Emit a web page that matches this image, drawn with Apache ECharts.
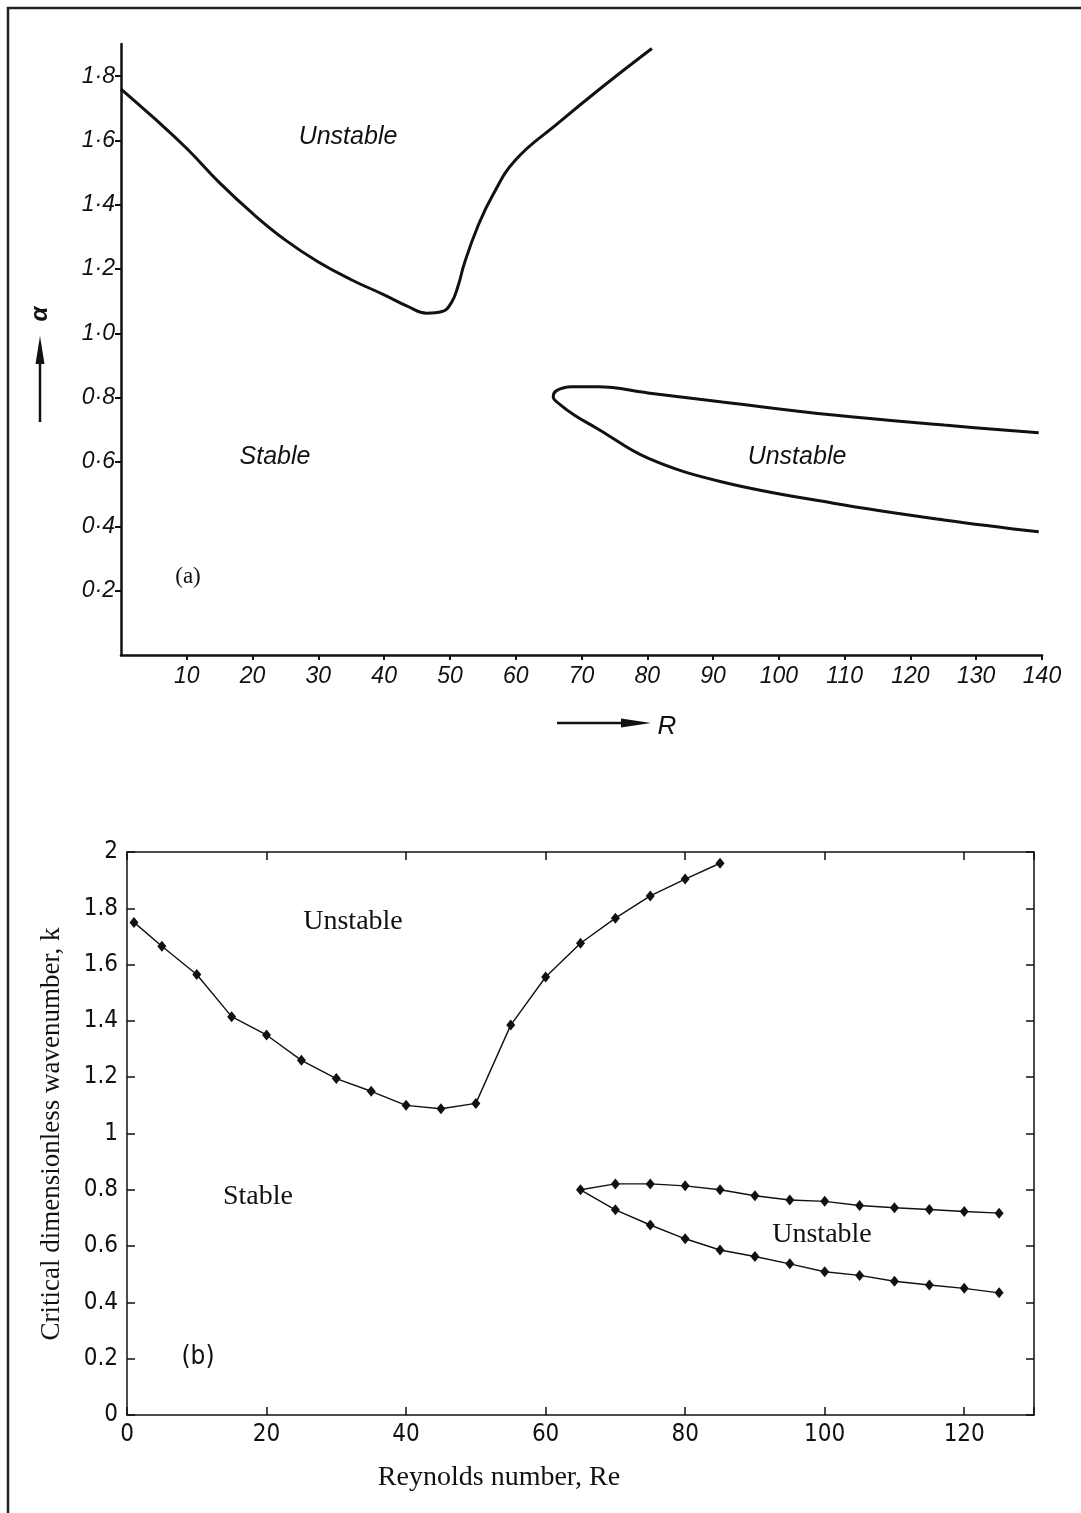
<!DOCTYPE html>
<html>
<head>
<meta charset="utf-8">
<script src="https://cdn.jsdelivr.net/npm/echarts@6/dist/echarts.min.js"></script>
<style>
  html, body { margin: 0; padding: 0; background: #fff; }
  #chart { width: 1081px; height: 1513px; }
</style>
</head>
<body>
<div id="chart"></div>
<script>
// (a) neutral-stability curves, alpha versus R
const upperCurveA = [
  [0, 1.76], [5, 1.67], [10, 1.575], [15, 1.468], [20, 1.373], [25, 1.29], [30, 1.222],
  [35, 1.167], [40, 1.12], [43.5, 1.085], [46.5, 1.063], [48.8, 1.068], [50.2, 1.095],
  [51.2, 1.145], [52.2, 1.218], [54.2, 1.331], [56.5, 1.43], [60, 1.54], [66.4, 1.653],
  [73.2, 1.767], [80.7, 1.886]
];
const loopCurveA = [
  [139.5, 0.691], [125.1, 0.715], [108.3, 0.746], [91.4, 0.787], [80.1, 0.815],
  [72.5, 0.834], [68.5, 0.834], [66.2, 0.822], [65.7, 0.803], [66.8, 0.778], [69.0, 0.745],
  [72.5, 0.703], [80.1, 0.612], [91.4, 0.538], [108.3, 0.472], [125.1, 0.420], [139.5, 0.383]
];

// (b) computed critical wavenumber k versus Re
const reUpper = [1, 5, 10, 15, 20, 25, 30, 35, 40, 45, 50, 55, 60, 65, 70, 75, 80, 85];
const kUpper  = [1.75, 1.665, 1.565, 1.415, 1.35, 1.26, 1.195, 1.15, 1.10, 1.088, 1.107,
                 1.385, 1.556, 1.676, 1.765, 1.844, 1.904, 1.96];
const reLoopTop = [125, 120, 115, 110, 105, 100, 95, 90, 85, 80, 75, 70, 65];
const kLoopTop  = [0.717, 0.723, 0.730, 0.736, 0.744, 0.759, 0.764, 0.779, 0.80, 0.814, 0.821, 0.821, 0.80];
const reLoopBottom = [70, 75, 80, 85, 90, 95, 100, 105, 110, 115, 120, 125];
const kLoopBottom  = [0.729, 0.675, 0.626, 0.586, 0.563, 0.537, 0.509, 0.496, 0.475, 0.462, 0.450, 0.434];

// tick labels
const xTicksA = [10, 20, 30, 40, 50, 60, 70, 80, 90, 100, 110, 120, 130, 140];
const yTickValuesA = [0.2, 0.4, 0.6, 0.8, 1.0, 1.2, 1.4, 1.6, 1.8];
const yTicksA = ['0·2', '0·4', '0·6', '0·8', '1·0', '1·2', '1·4', '1·6', '1·8'];
const xTicksB = [0, 20, 40, 60, 80, 100, 120];

const loopB = reLoopTop.map((r, i) => [r, kLoopTop[i]])
  .concat(reLoopBottom.map((r, i) => [r, kLoopBottom[i]]));
const upperB = reUpper.map((r, i) => [r, kUpper[i]]);

const INK = '#111';
const sansIt = { fontFamily: 'Liberation Sans', fontStyle: 'italic', color: INK };
const serif = 'Liberation Serif';
const narrow = "'Liberation Sans Narrow', 'DejaVu Sans Condensed', 'Liberation Sans', sans-serif";

const chart = echarts.init(document.getElementById('chart'), null, { renderer: 'canvas' });

function arrowHead(tipX, tipY, dir) {
  if (dir === 'up') {
    return [[tipX, tipY], [tipX - 4.5, tipY + 28], [tipX + 4.5, tipY + 28]];
  }
  return [[tipX, tipY], [tipX - 30, tipY - 4.5], [tipX - 30, tipY + 4.5]];
}

function labelA(v) {
  for (let i = 0; i < yTickValuesA.length; i++) {
    if (Math.abs(v - yTickValuesA[i]) < 1e-6) return yTicksA[i];
  }
  return '';
}

const frameAxis = {
  axisLine: { show: true, onZero: false, lineStyle: { color: INK, width: 1.5 } },
  axisTick: { show: true, inside: true, length: 8, lineStyle: { color: INK, width: 1.5 } },
  splitLine: { show: false }
};

const option = {
  backgroundColor: '#fff',
  animation: false,
  grid: [
    { left: 121, top: 44, width: 921, height: 611 },
    { left: 127, top: 852, width: 907, height: 563 }
  ],
  xAxis: [
    {
      gridIndex: 0, type: 'value', min: 0, max: 140, interval: 10,
      axisLine: { onZero: false, lineStyle: { color: INK, width: 2.5 } },
      axisTick: { show: true, length: 5, lineStyle: { color: INK, width: 2 }, customValues: xTicksA },
      splitLine: { show: false },
      axisLabel: Object.assign({
        fontSize: 23, margin: 10, customValues: xTicksA,
        formatter: v => xTicksA.includes(v) ? String(v) : ''
      }, sansIt)
    },
    Object.assign({
      gridIndex: 1, type: 'value', min: 0, max: 130, interval: 20, position: 'bottom',
      axisLabel: {
        fontSize: 24, margin: 8, color: INK, fontFamily: narrow,
        formatter: v => xTicksB.includes(v) ? String(v) : ''
      }
    }, frameAxis),
    Object.assign({
      gridIndex: 1, type: 'value', min: 0, max: 130, interval: 20, position: 'top',
      axisLabel: { show: false }
    }, frameAxis)
  ],
  yAxis: [
    {
      gridIndex: 0, type: 'value', min: 0, max: 1.9, interval: 0.2,
      axisLine: { show: true, onZero: false, lineStyle: { color: INK, width: 2.5 } },
      axisTick: { show: true, length: 6, lineStyle: { color: INK, width: 2 }, customValues: yTickValuesA },
      splitLine: { show: false },
      axisLabel: Object.assign({
        fontSize: 23, margin: 6, customValues: yTickValuesA,
        formatter: labelA
      }, sansIt)
    },
    Object.assign({
      gridIndex: 1, type: 'value', min: 0, max: 2, interval: 0.2, position: 'left',
      axisLabel: { fontSize: 24, margin: 9, color: INK, fontFamily: narrow }
    }, frameAxis),
    Object.assign({
      gridIndex: 1, type: 'value', min: 0, max: 2, interval: 0.2, position: 'right',
      axisLabel: { show: false }
    }, frameAxis)
  ],
  series: [
    {
      type: 'line', xAxisIndex: 0, yAxisIndex: 0, data: upperCurveA,
      smooth: 0.45, showSymbol: false, lineStyle: { color: INK, width: 3 }
    },
    {
      type: 'line', xAxisIndex: 0, yAxisIndex: 0, data: loopCurveA,
      smooth: 0.4, showSymbol: false, lineStyle: { color: INK, width: 3 }
    },
    {
      type: 'line', xAxisIndex: 1, yAxisIndex: 1, data: upperB,
      symbol: 'diamond', symbolSize: [9, 11], showAllSymbol: true,
      itemStyle: { color: INK }, lineStyle: { color: INK, width: 1.4 }
    },
    {
      type: 'line', xAxisIndex: 1, yAxisIndex: 1, data: loopB,
      symbol: 'diamond', symbolSize: [9, 11], showAllSymbol: true,
      itemStyle: { color: INK }, lineStyle: { color: INK, width: 1.4 }
    }
  ],
  graphic: [
    // outer frame (top and left edges)
    { type: 'polyline', shape: { points: [[8, 1513], [8, 8], [1081, 8]] },
      style: { stroke: '#222', lineWidth: 2.5, fill: null } },

    // (a) annotations
    { type: 'text', x: 348, y: 137, style: { text: 'Unstable', fontSize: 25, align: 'center', verticalAlign: 'middle', fill: INK, fontFamily: 'Liberation Sans', fontStyle: 'italic' } },
    { type: 'text', x: 275, y: 457, style: { text: 'Stable', fontSize: 25, align: 'center', verticalAlign: 'middle', fill: INK, fontFamily: 'Liberation Sans', fontStyle: 'italic' } },
    { type: 'text', x: 797, y: 457, style: { text: 'Unstable', fontSize: 25, align: 'center', verticalAlign: 'middle', fill: INK, fontFamily: 'Liberation Sans', fontStyle: 'italic' } },
    { type: 'text', x: 188, y: 577, style: { text: '(a)', fontSize: 23, align: 'center', verticalAlign: 'middle', fill: INK, fontFamily: serif } },

    // (a) axis names with arrows
    { type: 'line', shape: { x1: 40, y1: 422, x2: 40, y2: 350 }, style: { stroke: INK, lineWidth: 2.5 } },
    { type: 'polygon', shape: { points: arrowHead(40, 336, 'up') }, style: { fill: INK } },
    { type: 'text', x: 40, y: 314, rotation: Math.PI / 2,
      style: { text: 'α', fontSize: 24, align: 'center', verticalAlign: 'middle', fill: INK, fontFamily: 'Liberation Sans', fontStyle: 'italic', fontWeight: 'bold' } },
    { type: 'line', shape: { x1: 557, y1: 723, x2: 630, y2: 723 }, style: { stroke: INK, lineWidth: 2.5 } },
    { type: 'polygon', shape: { points: arrowHead(651, 723, 'right') }, style: { fill: INK } },
    { type: 'text', x: 667, y: 727, style: { text: 'R', fontSize: 26, align: 'center', verticalAlign: 'middle', fill: INK, fontFamily: 'Liberation Sans', fontStyle: 'italic' } },

    // (b) annotations
    { type: 'text', x: 353, y: 922, style: { text: 'Unstable', fontSize: 28, align: 'center', verticalAlign: 'middle', fill: INK, fontFamily: serif } },
    { type: 'text', x: 258, y: 1197, style: { text: 'Stable', fontSize: 28, align: 'center', verticalAlign: 'middle', fill: INK, fontFamily: serif } },
    { type: 'text', x: 822, y: 1235, style: { text: 'Unstable', fontSize: 28, align: 'center', verticalAlign: 'middle', fill: INK, fontFamily: serif } },
    { type: 'text', x: 198, y: 1357, style: { text: '(b)', fontSize: 26, align: 'center', verticalAlign: 'middle', fill: INK, fontFamily: narrow } },

    // (b) axis titles
    { type: 'text', x: 499, y: 1478, style: { text: 'Reynolds number, Re', fontSize: 28, align: 'center', verticalAlign: 'middle', fill: INK, fontFamily: serif } },
    { type: 'text', x: 52, y: 1134, rotation: Math.PI / 2,
      style: { text: 'Critical dimensionless wavenumber, k', fontSize: 27, align: 'center', verticalAlign: 'middle', fill: INK, fontFamily: serif } }
  ]
};

chart.setOption(option);
</script>
</body>
</html>
